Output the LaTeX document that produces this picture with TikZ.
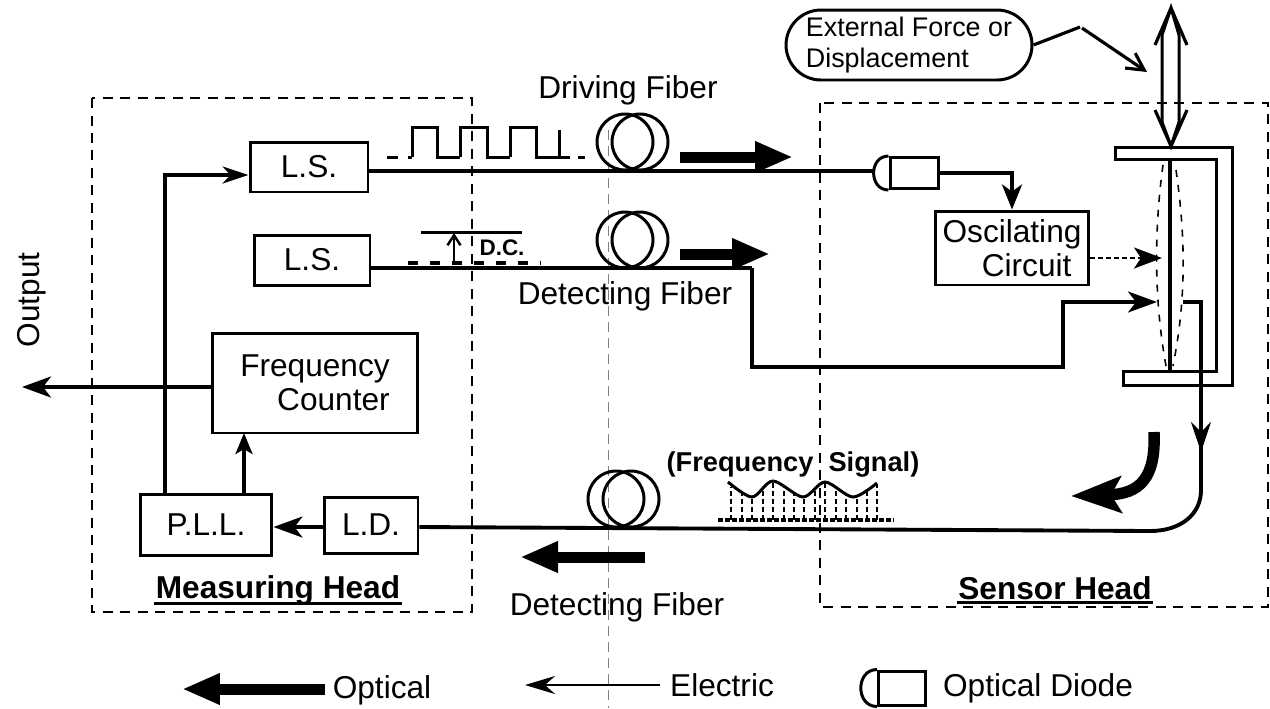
\documentclass[tikz,border=0pt]{standalone}
\usepackage{fontspec}
\setmainfont{Liberation Sans}
\usetikzlibrary{arrows.meta}
\begin{document}
\begin{tikzpicture}[x=0.02cm, y=-0.02cm,
	every path/.style={line width=1.7pt},
	head/.style={draw, line width=1.5pt, dash pattern=on 0.2cm off 0.15cm},
	box/.style={draw, inner sep=0, align=center, font=\fontsize{18}{19.5}\selectfont},
	lbl/.style={inner sep=0, align=left, font=\fontsize{18}{22}\selectfont},
	blbl/.style={inner sep=0, font=\fontsize{18}{22}\selectfont\bfseries},
	fiber/.style={line width=2.2pt},
	elec/.style={line width=2pt, -{Stealth[length=0.58cm, width=0.42cm, inset=0.16cm]}},
	barb/.style={line width=1.8pt, -{Straight Barb[length=0.34cm, width=0.36cm]}},
	opt/.style={line width=0.22cm, -{Triangle[length=0.76cm, width=0.58cm]}}]
	\useasboundingbox (0,0) rectangle (1270,708);

	\draw[gray, line width=0.4pt, dash pattern=on 0.2cm off 0.12cm] (608,130) -- (608,708);
	\draw[head] (92,98) rectangle (472,612);
	\draw[head] (820,103) rectangle (1268,607);

	\node[box, minimum width=2.36cm, minimum height=1cm] (ls1) at (309,167) {L.S.};
	\node[box, minimum width=2.32cm, minimum height=1cm] (ls2) at (312,260) {L.S.};
	\node[box, minimum width=4.12cm, minimum height=2cm, align=right] (fc) at (315,383) {Frequency\\Counter};
	\node[box, minimum width=2.64cm, minimum height=1.22cm] (pll) at (206,525) {P.L.L.};
	\node[box, minimum width=1.88cm, minimum height=1.12cm] (ld) at (371,525) {L.D.};
	\node[box, minimum width=3.06cm, minimum height=1.48cm, align=right] (osc) at (1012,248) {Oscilating\\Circuit\hspace*{0.2cm}};
	\node[draw, inner sep=0, minimum width=0.96cm, minimum height=0.62cm] (dio) at (914,173) {};
	\draw (dio.north west) to[out=180, in=180, looseness=1.5] (dio.south west);
	\node[draw, inner sep=0, rounded corners=0.7cm, minimum width=4.92cm, minimum height=1.4cm, font=\fontsize{15.3}{18}\selectfont, align=left] (ext) at (909,45) {External Force or\\Displacement};

	\node[lbl] (drv) at (628,90) {Driving Fiber};
	\node[lbl] (det1) at (625,296) {Detecting Fiber};
	\node[lbl] (det2) at (617,607) {Detecting Fiber};
	\node[lbl, rotate=90] (out) at (32,300) {Output};
	\node[blbl] (mh) at (278,590) {Measuring Head};
	\node[blbl] (sh) at (1055,588) {Sensor Head};
	\draw ([yshift=0.06cm]mh.south west) -- ([yshift=0.06cm]mh.south east);
	\draw ([yshift=-0.02cm]sh.south west) -- ([yshift=-0.02cm]sh.south east);
	\node[blbl, font=\fontsize{15.5}{18}\selectfont\bfseries] (sig) at (793,465) {(Frequency \ Signal)};
	\node[blbl, font=\fontsize{12.8}{15}\selectfont\bfseries] (dc) at (502,248) {D.C.};

	\foreach \cx/\cy in {625/142, 625/240, 616/499} {
		\draw (\cx,\cy) circle[radius=28];
		\draw (\cx+15,\cy) circle[radius=28];
	}

	\coordinate (domein) at (875,171);
	\draw[fiber] (ls1.east |- domein) -- (domein);
	\draw[fiber, -{Stealth[length=0.5cm, width=0.4cm, inset=0.14cm]}] (dio.east) -| (osc.north);
	\coordinate (memdash) at (1162,258);
	\draw[line width=1.5pt, dash pattern=on 0.1cm off 0.06cm, -{Stealth[length=0.56cm, width=0.42cm, inset=0.14cm]}] (osc.east |- memdash) -- (memdash);

	\coordinate (sb1) at (752,268);
	\coordinate (sb3) at (1063,367);
	\coordinate (memin) at (1157,302);
	\coordinate (memout) at (1183,302);
	\coordinate (sb5) at (1201,490);
	\coordinate (sb6) at (1150,531);
	\draw[fiber] (ls2.east |- sb1) -- (sb1);
	\draw[elec] (sb1) |- (sb3) |- (memin);
	\draw[fiber] (memout) -| (sb5) .. controls (1201,515) and (1180,531) .. (sb6) -- (ld.east |- 0,527);
	\coordinate (dn1) at (1201,415);
	\coordinate (dn2) at (1201,452);
	\draw[line width=1.4pt, -{Stealth[length=0.6cm, width=0.4cm, inset=0.2cm]}] (dn1) -- (dn2);

	\coordinate (ctr) at (244,433);
	\coordinate (lsup) at (165,175);
	\coordinate (outtip) at (22,387);
	\draw[elec] (ld.west |- 0,527) -- (pll.east |- 0,527);
	\draw[elec, -{Stealth[length=0.42cm, width=0.34cm, inset=0.1cm]}] (pll.north -| ctr) -- (ctr);
	\draw[elec, -{Stealth[length=0.52cm, width=0.34cm, inset=0.16cm]}] (pll.north -| lsup) -- (lsup) -- (ls1.west |- lsup);
	\draw[elec] (fc.west |- outtip) -- (outtip);

	\coordinate (ext1) at (1080,27);
	\coordinate (ext2) at (1082,28);
	\coordinate (ext3) at (1147,72);
	\draw[line width=1.8pt] (ext.east) -- (ext1);
	\draw[barb] (ext2) -- (ext3);

	\draw (1171,8) -- (1162,35) -- (1162,122) -- (1171,146) -- (1179,122) -- (1179,35) -- cycle;
	\draw[line width=1.8pt] (1155,45) -- (1171,8) -- (1187,45);
	\draw[line width=1.8pt] (1155,110) -- (1171,146) -- (1187,110);
	\draw (1115,147) -- (1232,147) -- (1232,385) -- (1123,385) -- (1123,371) -- (1216,371) -- (1216,159) -- (1115,159) -- cycle;
	\draw[line width=1.8pt] (1170,160) -- (1170,371);
	\draw[line width=0.9pt, dash pattern=on 0.14cm off 0.16cm] (1163,165) .. controls (1154,230) and (1154,300) .. (1166,366);
	\draw[line width=0.9pt, dash pattern=on 0.14cm off 0.16cm] (1176,170) .. controls (1186,240) and (1186,300) .. (1173,366);

	\draw (412,157) |- (437,127) |- (460,157);
	\draw (460,157) |- (487,127) |- (510,157);
	\draw (510,157) |- (536,127) |- (559,157) -- (559,130);
	\draw[dash pattern=on 0.22cm off 0.2cm] (387,157) -- (412,157);
	\draw (559,157) -- (570,157);
	\draw[dash pattern=on 0.14cm off 0.5cm] (578,157) -- (590,157);
	\draw (421,232) -- (522,232);
	\coordinate (dc1) at (454,264);
	\coordinate (dc2) at (454,233);
	\draw[line width=1.4pt, -{Straight Barb[length=0.2cm, width=0.26cm]}] (dc1) -- (dc2);
	\draw[line width=1.8pt, dash pattern=on 0.2cm off 0.24cm] (408,263) -- (540,263);

	\draw[line width=2.6pt, dash pattern=on 0.1cm off 0.04cm] (718,520) -- (894,520);
	\foreach \x/\y in {731/487, 742/493, 752/498, 763/491, 773/483, 784/487, 794/494, 804/498, 815/490, 825/483, 836/487, 846/494, 857/498, 867/490, 877/484} {
		\draw[line width=1.4pt, dash pattern=on 0.1cm off 0.06cm] (\x,520) -- (\x,\y);
	}
	\draw plot[smooth] coordinates {(728,482) (752,497) (773,481) (803,497) (825,482) (853,497) (877,483)};

	\coordinate (o1a) at (680,157);
	\coordinate (o1b) at (793,157);
	\coordinate (o2a) at (680,254);
	\coordinate (o2b) at (770,254);
	\coordinate (o3a) at (645,557);
	\coordinate (o3b) at (520,557);
	\coordinate (o4a) at (325,689);
	\coordinate (o4b) at (182,689);
	\coordinate (e1a) at (660,685);
	\coordinate (e1b) at (525,685);
	\draw[opt] (o1a) -- (o1b);
	\draw[opt] (o2a) -- (o2b);
	\draw[opt] (o3a) -- (o3b);
	\draw[opt] (o4a) -- (o4b);
	\draw[line width=1.6pt, -{Stealth[length=0.6cm, width=0.36cm, inset=0.2cm]}] (e1a) -- (e1b);
	\draw[line width=6.5pt, -{Stealth[length=1cm, width=0.72cm, inset=0.2cm]}] (1154,432) .. controls (1156,478) and (1140,494) .. (1071,496);

	\node[draw, inner sep=0, minimum width=0.94cm, minimum height=0.68cm] (dleg) at (902,688) {};
	\draw (dleg.north west) to[out=180, in=180, looseness=1.5] (dleg.south west);
	\node[lbl] (lopt) at (382,690) {Optical};
	\node[lbl] (lele) at (722,685) {Electric};
	\node[lbl] (ldio) at (1038,688) {Optical Diode};
\end{tikzpicture}
\end{document}
